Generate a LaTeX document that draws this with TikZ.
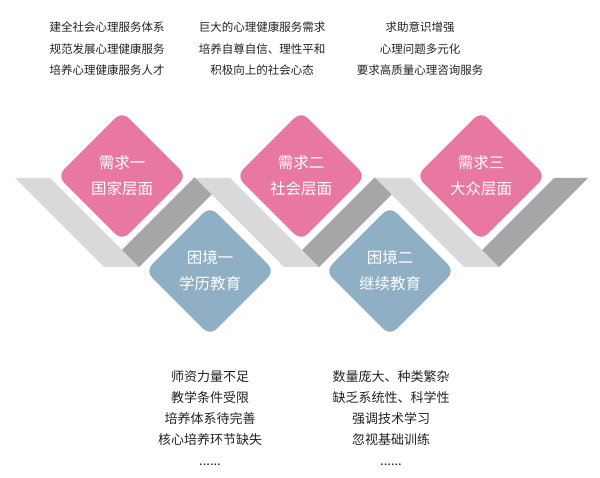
\documentclass[tikz,border=0pt]{standalone}
\usepackage{fontspec}
\newfontfamily\cjk{Noto Sans CJK SC}
\usetikzlibrary{shapes.geometric,positioning}
\definecolor{NeedPink}{RGB}{232,120,162}
\definecolor{PlightBlue}{RGB}{143,175,197}
\definecolor{RibbonLight}{RGB}{217,217,219}
\definecolor{RibbonDark}{RGB}{166,166,168}
\definecolor{NoteGray}{RGB}{34,34,34}

\begin{document}
\begin{tikzpicture}[x=1pt,y=-1pt,every node/.style={align=center,inner sep=0pt},
  diamondbox/.style={shape=diamond,aspect=1,minimum size=138pt,rounded corners=12pt,draw=white,line width=4.5pt,text=white,font=\cjk\fontsize{15.5}{26}\selectfont},
  needbox/.style={diamondbox,fill=NeedPink},
  plightbox/.style={diamondbox,fill=PlightBlue},
  notetext/.style={text=NoteGray,font=\cjk\fontsize{11.5}{21.5}\selectfont},
  plightnote/.style={text=NoteGray,font=\cjk\fontsize{13}{21}\selectfont,anchor=north}]
\fill [white] (0,0) rectangle (600,478);
% folded ribbon
\fill [RibbonLight] (15,178) -- (50,178) -- (139,267) -- (104,267) -- cycle;
\fill [RibbonLight] (195,178) -- (230,178) -- (319,267) -- (284,267) -- cycle;
\fill [RibbonLight] (375,178) -- (410,178) -- (499,267) -- (464,267) -- cycle;
\fill [RibbonDark] (122,250) -- (139,267) -- (211.5,194.5) -- (194.5,177.5) -- cycle;
\fill [RibbonDark] (302,250) -- (319,267) -- (391.5,194.5) -- (374.5,177.5) -- cycle;
\fill [RibbonDark] (482,250) -- (499,267) -- (588,178) -- (554,178) -- cycle;
% diamonds
\node [needbox] (Need1) at (122,176) {需求一\\国家层面};
\node [needbox] (Need2) at (301,176) {需求二\\社会层面};
\node [needbox] (Need3) at (481,176) {需求三\\大众层面};
\node [plightbox] (Plight1) at (210,271) {困境一\\学历教育};
\node [plightbox] (Plight2) at (390,271) {困境二\\继续教育};
% notes
\node [notetext] (NeedNote1) at (107,49) {建全社会心理服务体系\\规范发展心理健康服务\\培养心理健康服务人才};
\node [notetext] (NeedNote2) at (262,49) {巨大的心理健康服务需求\\培养自尊自信、理性平和\\积极向上的社会心态};
\node [notetext] (NeedNote3) at (420,49) {求助意识增强\\心理问题多元化\\要求高质量心理咨询服务};
\node [plightnote] (PlightNote1) at (210,370) {师资力量不足\\教学条件受限\\培养体系待完善\\核心培养环节缺失\\......};
\node [plightnote] (PlightNote2) at (391,370) {数量庞大、种类繁杂\\缺乏系统性、科学性\\强调技术学习\\忽视基础训练\\......};
\end{tikzpicture}
\end{document}
